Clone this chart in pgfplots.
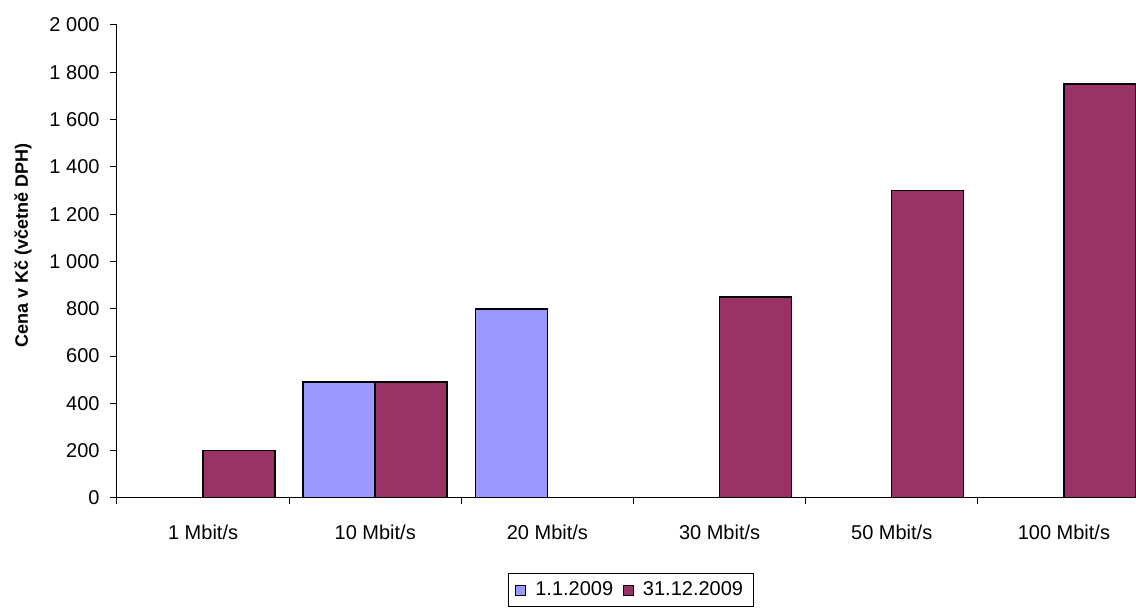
\documentclass[border=0pt]{standalone}
\usepackage{pgfplots}
\pgfplotsset{compat=1.18}
\usepackage{fontspec}
\setmainfont{Liberation Sans}
\definecolor{cblue}{HTML}{9999FF}
\definecolor{cred}{HTML}{993366}
\begin{document}
\begin{tikzpicture}
\useasboundingbox (0,0) rectangle (568pt,304pt);
\begin{axis}[
  at={(58.5pt,55pt)}, anchor=south west,
  scale only axis,
  width=516.5pt, height=236.5pt,
  xmin=-0.5, xmax=5.5,
  ymin=0, ymax=2000,
  ybar=0pt, bar width=36pt,
  axis x line*=bottom, axis y line*=left,
  axis line style={-, black, line width=0.5pt},
  tick align=outside,
  xtick={0,...,5},
  xticklabels={1 Mbit/s,10 Mbit/s,20 Mbit/s,30 Mbit/s,50 Mbit/s,100 Mbit/s},
  minor xtick={-0.5,0.5,...,5.5},
  major x tick style={draw=none},
  minor x tick style={black, line width=0.5pt},
  minor tick length=3pt,
  major tick length=3.5pt,
  ytick={0,200,...,2000},
  y tick style={black, line width=0.5pt},
  /pgf/number format/assume math mode=true,
  /pgf/number format/1000 sep={\ },
  scaled y ticks=false,
  tick label style={font=\fontsize{10}{12}\selectfont},
  xticklabel style={yshift=-6.5pt},
  yticklabel style={xshift=-1.7pt},
  ylabel={Cena v Kč (včetně DPH)},
  ylabel style={at={(axis description cs:-0.091,0.534)}, anchor=center, font=\fontsize{9}{11}\selectfont\bfseries},
  legend style={at={(axis description cs:0.4976,-0.1945)}, anchor=center,
    legend columns=2, draw=black, line width=0.5pt,
    font=\fontsize{10}{12}\selectfont,
    /tikz/every odd column/.append style={column sep=2.7pt},
    /tikz/every even column/.append style={column sep=2.7pt},
    inner xsep=3pt, inner ysep=2pt},
  legend image code/.code={\draw[#1, line width=0.5pt] (0pt,-2.6pt) rectangle (5pt,2.4pt);},
]
\addplot[fill=cblue, draw=black, line width=0.75pt] coordinates {(1,490) (2,800)};
\addplot[fill=cred, draw=black, line width=0.75pt] coordinates {(0,200) (1,490) (3,850) (4,1300) (5,1750)};
\legend{1.1.2009, 31.12.2009}
\end{axis}
\end{tikzpicture}
\end{document}
